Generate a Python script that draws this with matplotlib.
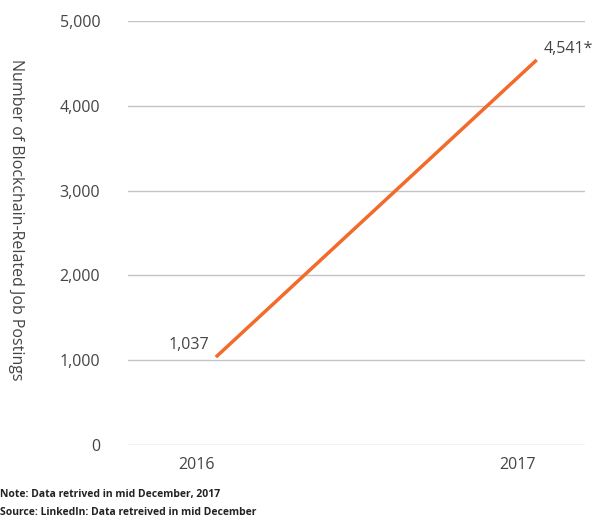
import matplotlib.pyplot as plt
import matplotlib.transforms as mtransforms

# Data
years = ["2016", "2017"]
postings = [1037, 4541]
point_labels = ["1,037", "4,541*"]
y_ticks = [0, 1000, 2000, 3000, 4000, 5000]
y_tick_labels = ["0", "1,000", "2,000", "3,000", "4,000", "5,000"]

plt.rcParams['font.family'] = ['Open Sans', 'DejaVu Sans']

fig = plt.figure(figsize=(5.98, 5.19), dpi=100)
ax = fig.add_axes([0.214, 0.1426, 0.764, 0.8169])

x = list(range(len(years)))
ax.plot(x, postings, color='#F26B2B', linewidth=2.5, solid_capstyle='butt', zorder=3)

ax.set_ylim(0, 5000)
ax.set_xlim(-0.274, 1.15)
ax.set_yticks(y_ticks)
ax.set_yticklabels(y_tick_labels)
ax.grid(axis='y', color='#C4C4C4', linewidth=1)
ax.set_axisbelow(True)
for s in ax.spines.values():
    s.set_visible(False)
ax.tick_params(axis='both', length=0, labelsize=11.5, labelcolor='#444444')
ax.tick_params(axis='y', pad=20)
ax.tick_params(axis='x', pad=9)

ax.set_xticks(x)
ax.set_xticklabels(years)
# x labels sit a bit left of the line ends
offset = mtransforms.ScaledTranslation(-0.19, 0, fig.dpi_scale_trans)
for lbl in ax.get_xticklabels():
    lbl.set_transform(lbl.get_transform() + offset)

# point labels
ax.annotate(point_labels[0], (x[0], postings[0]), xytext=(-5, 3), textcoords='offset points',
            ha='right', va='bottom', fontsize=11.5, color='#444444')
ax.annotate(point_labels[1], (x[1], postings[1]), xytext=(5, 2), textcoords='offset points',
            ha='left', va='bottom', fontsize=11.5, color='#444444')

fig.text(0.027, 0.576, "Number of Blockchain-Related Job Postings", rotation=-90,
         ha='center', va='center', fontsize=11.5, color='#444444')

fig.text(0.0, 0.047, "Note: Data retrived in mid December, 2017", fontsize=7.5,
         fontweight='bold', color='#222222', ha='left', va='center')
fig.text(0.0, 0.013, "Source: LinkedIn: Data retreived in mid December", fontsize=7.5,
         fontweight='bold', color='#222222', ha='left', va='center')

fig.savefig("out.png", dpi=100)
